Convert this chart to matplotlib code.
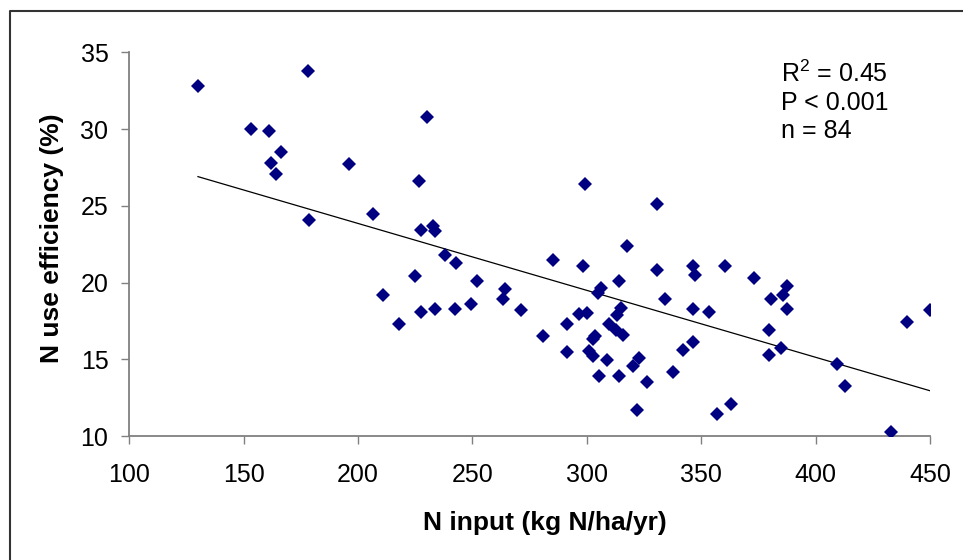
import matplotlib
matplotlib.use('Agg')
import matplotlib.pyplot as plt
from matplotlib.lines import Line2D

plt.rcParams['font.family'] = ['Liberation Sans', 'DejaVu Sans']
plt.rcParams['mathtext.fontset'] = 'custom'
plt.rcParams['mathtext.rm'] = 'Liberation Sans'
plt.rcParams['mathtext.it'] = 'Liberation Sans'

# N input (kg N/ha/yr) and N use efficiency (%)
n_input = [130, 178, 153, 161, 162, 166.5, 164, 196, 178.5, 206.5,
           230, 226.7, 227.5, 232.9, 233.7, 238, 243, 224.8, 210.8, 218,
           227.5, 233.7, 242.5, 249.5, 251.9, 264.3, 263.4, 271.2, 280.9, 285.2,
           291.4, 291.4, 296.5, 300.2, 298.3, 299.1, 302.6, 303.7, 301, 302.6,
           305.3, 309, 304.8, 306.4, 309.9, 313.4, 314.2, 315, 314.2, 312.8,
           315.8, 317.4, 320, 322.8, 322, 326.2, 330.8, 330.8, 334.3, 337.8,
           342, 346.6, 346.6, 347.2, 346.6, 353.6, 356.8, 363, 360.3, 373,
           380.5, 379.7, 379.7, 385, 385.8, 387.4, 387.4, 409.4, 412.9, 433,
           440, 450]
nue = [32.8, 33.8, 30.0, 29.9, 27.8, 28.5, 27.05, 27.7, 24.05, 24.45,
       30.8, 26.6, 23.4, 23.7, 23.35, 21.8, 21.3, 20.4, 19.2, 17.3,
       18.05, 18.3, 18.3, 18.6, 20.1, 19.55, 18.95, 18.2, 16.5, 21.45,
       17.3, 15.45, 17.95, 18.0, 21.1, 26.4, 16.3, 16.5, 15.55, 15.2,
       13.9, 14.95, 19.3, 19.67, 17.3, 17.9, 20.1, 18.35, 13.9, 16.9,
       16.6, 22.4, 14.55, 15.1, 11.7, 13.5, 25.1, 20.8, 18.95, 14.16,
       15.6, 16.1, 21.1, 20.5, 18.3, 18.05, 11.45, 12.1, 21.1, 20.3,
       18.95, 16.9, 15.3, 15.75, 19.2, 19.77, 18.3, 14.7, 13.25, 10.25,
       17.4, 18.2]

# linear trend line end points
trend_x = [130, 450]
trend_y = [26.9, 12.95]

stats_lines = [r'R$^{2}$ = 0.45', 'P < 0.001', 'n = 84']

fig = plt.figure(figsize=(9.63, 5.6), dpi=100)
ax = fig.add_axes([0.1343, 0.2214, 0.8314, 0.6852])

ax.plot(trend_x, trend_y, color='black', lw=0.9, zorder=2)
ax.plot(n_input, nue, linestyle='none', marker='D', ms=6.7,
        color='#000080', markeredgewidth=0, zorder=3)

ax.set_xlim(100, 450)
ax.set_ylim(10, 35)
ax.set_xticks(range(100, 451, 50))
ax.set_yticks(range(10, 36, 5))

for s in ['top', 'right']:
    ax.spines[s].set_visible(False)
for s in ['left', 'bottom']:
    ax.spines[s].set_color('#808080')
    ax.spines[s].set_linewidth(1.3)
ax.tick_params(axis='both', direction='out', length=5.5, width=1,
               color='#808080', labelsize=18, labelcolor='black')
ax.tick_params(axis='x', pad=14)
ax.tick_params(axis='y', pad=9.5)

fig.text(545 / 963, 1 - 523 / 560, 'N input (kg N/ha/yr)', fontsize=19,
         fontweight='bold', ha='center', va='center')
fig.text(52 / 963, 1 - 238 / 560, 'N use efficiency (%)', fontsize=19,
         fontweight='bold', ha='center', va='center', rotation=90)

for i, line in enumerate(stats_lines):
    fig.text(781 / 963, 1 - (82 + 28 * i) / 560, line, fontsize=18,
             ha='left', va='baseline')

# outer chart border (runs off the right and bottom edges)
bx, by = 10 / 963, 1 - 11 / 560
fig.add_artist(Line2D([bx, bx, 1.0], [0.0, by, by], color='#333333',
                      lw=1.5, transform=fig.transFigure))

fig.savefig('out.png', dpi=100)
